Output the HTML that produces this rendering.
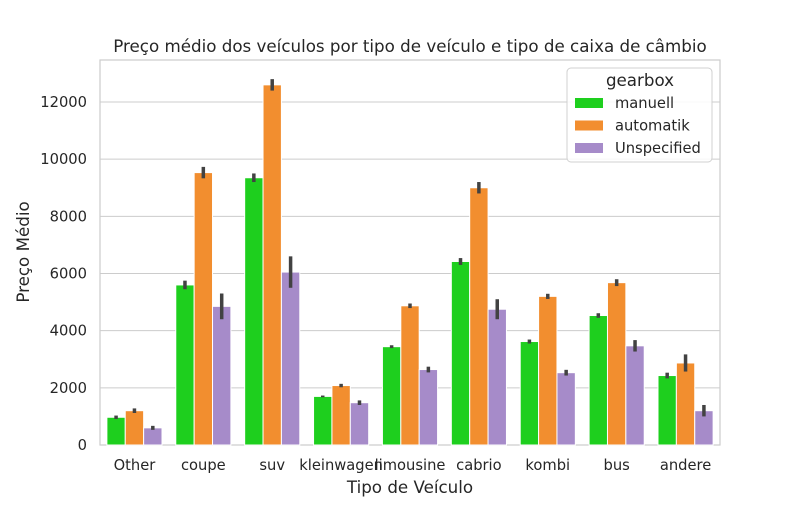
<!DOCTYPE html>
<html><head><meta charset="utf-8"><style>
body{margin:0;background:#fff;font-family:"Liberation Sans","DejaVu Sans",sans-serif;}
svg text{font-family:"DejaVu Sans","Liberation Sans",sans-serif;fill:#262626;}
</style></head><body>
<svg id="chart" width="800" height="500" xmlns="http://www.w3.org/2000/svg"></svg>
<script>
const categories=["Other","coupe","suv","kleinwagen","limousine","cabrio","kombi","bus","andere"];
const seriesNames=["manuell","automatik","Unspecified"];
const manuell=[970,5600,9350,1700,3440,6420,3620,4530,2430];
const automatik=[1200,9530,12600,2080,4870,9000,5200,5680,2870];
const unspecified=[600,4850,6050,1480,2640,4750,2530,3470,1200];
const errManuell=[60,150,150,30,50,120,70,80,100];
const errAutomatik=[80,200,200,60,80,200,90,120,300];
const errUnspecified=[70,450,550,80,100,350,100,200,200];
const yTicks=[0,2000,4000,6000,8000,10000,12000];
const colors=["#1ecf1e","#f28e2f","#a68bc9"];
const NS="http://www.w3.org/2000/svg";
const svg=document.getElementById('chart');
const L=100,R=720,T=60,B=445,ymax=12000,yTop=102;
const y=v=>B-(v/ymax)*(B-yTop);
const band=(R-L)/categories.length;
const x=i=>L+band*i;
function mk(tag,attrs,parent){const e=document.createElementNS(NS,tag);for(const k in attrs)e.setAttribute(k,attrs[k]);(parent||svg).appendChild(e);return e;}
let frame=mk('rect',{x:L,y:T,width:R-L,height:B-T,fill:'#fff',stroke:'#cccccc','stroke-width':1.2});


yTicks.forEach(t=>{
 let g=mk('line',{x1:L,x2:R,y1:y(t),y2:y(t),stroke:'#cccccc','stroke-width':1});
 
 
 let tx=mk('text',{x:87,y:y(t)+5,'text-anchor':'end','font-size':14.7});
 tx.textContent=t;
 
 
});
const series=[manuell,automatik,unspecified];
const errs=[errManuell,errAutomatik,errUnspecified];
const bw=band*0.8/3;
categories.forEach((c,i)=>{
 series.forEach((s,j)=>{
  const bx=x(i)+band*0.1+bw*j;
  let r=mk('rect',{x:bx,y:y(s[i]),width:bw,height:B-y(s[i]),fill:colors[j],stroke:'#fff','stroke-width':1});
  
  
  let e=mk('line',{x1:bx+bw/2,x2:bx+bw/2,y1:y(s[i]-errs[j][i]),y2:y(s[i]+errs[j][i]),stroke:'#424242','stroke-width':3.5});
  
  
 });
 let tx=mk('text',{x:x(i)+band/2,y:470,'text-anchor':'middle','font-size':14.7});
 tx.textContent=c;
 
 
});
let t1=mk('text',{x:410,y:52,'text-anchor':'middle','font-size':16.7});
t1.textContent="Preço médio dos veículos por tipo de veículo e tipo de caixa de câmbio";


let t2=mk('text',{x:410,y:493,'text-anchor':'middle','font-size':16.7});
t2.textContent="Tipo de Veículo";


let t3=mk('text',{x:29,y:252,'text-anchor':'middle','font-size':16.7,transform:'rotate(-90 29 252)'});
t3.textContent="Preço Médio";


let lg=mk('rect',{x:567,y:68,width:145,height:94,rx:4,fill:'#fff','fill-opacity':0.85,stroke:'#d0d0d0'});


let lt=mk('text',{x:640,y:86,'text-anchor':'middle','font-size':16.7});
lt.textContent="gearbox";


seriesNames.forEach((n,j)=>{
 const yy=103+j*22.5;
 let p=mk('rect',{x:575,y:yy-5,width:28,height:10,fill:colors[j]});
 
 
 let t=mk('text',{x:615,y:yy+5,'font-size':14.7});
 t.textContent=n;
 
 
});
</script>
</body></html>
